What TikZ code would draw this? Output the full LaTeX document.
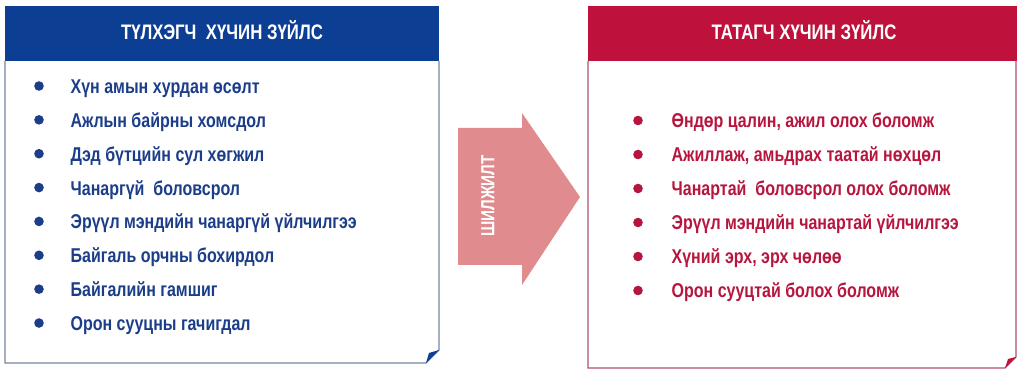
\documentclass[tikz,border=0pt]{standalone}
\usepackage{fontspec}
\newfontfamily\condsans[FakeStretch=0.8]{Liberation Sans}
\definecolor{pushblue}{RGB}{12,62,148}
\definecolor{pushtext}{RGB}{28,62,136}
\definecolor{pushframe}{RGB}{120,134,160}
\definecolor{pullred}{RGB}{190,18,60}
\definecolor{pulltext}{RGB}{182,22,62}
\definecolor{pullframe}{RGB}{176,80,110}
\definecolor{shiftpink}{RGB}{224,140,142}
\def\rowdy{33.86}
\def\pullrowdy{34}
\newcommand{\pxY}[1]{371-(#1)}

\tikzset{
  headtext/.style={font=\condsans\bfseries\fontsize{21}{21}\selectfont,text=white,anchor=base,inner sep=0pt},
  itemtext/.style={font=\condsans\bfseries\fontsize{20}{20}\selectfont,anchor=base west,inner sep=0pt},
}

\begin{document}
\begin{tikzpicture}[x=1pt,y=1pt,line width=1.3pt]
  \useasboundingbox (0,0) rectangle (1017,371);
  \fill[pushblue] (5,{\pxY{6}}) rectangle (439,{\pxY{61}});
  \draw[pushframe] (5,{\pxY{61}}) -- (5,{\pxY{363}}) -- (426,{\pxY{363}}) -- (439,{\pxY{350}}) -- (439,{\pxY{61}});
  \fill[pushblue] (426,{\pxY{363}}) -- (439,{\pxY{350}}) -- (429,{\pxY{353}}) -- cycle;
  \node[headtext] (pushhead) at (222,{\pxY{40}}) {ТҮЛХЭГЧ\ \ ХҮЧИН ЗҮЙЛС};
  \foreach \t [count=\n] in {Хүн амын хурдан өсөлт, Ажлын байрны хомсдол, Дэд бүтцийн сул хөгжил,
      Чанаргүй\ \ боловсрол, Эрүүл мэндийн чанаргүй үйлчилгээ, Байгаль орчны бохирдол,
      Байгалийн гамшиг, Орон сууцны гачигдал} {
    \fill[pushtext] (39,{\pxY{93.5+(\n-1)*\rowdy-7.5}}) circle (4.8);
    \node[itemtext,text=pushtext] (push\n) at (70,{\pxY{93.5+(\n-1)*\rowdy}}) {\t};
  }

  \fill[shiftpink] (458,{\pxY{128}}) -- (522,{\pxY{128}}) -- (522,{\pxY{113}}) -- (580,{\pxY{197}})
    -- (522,{\pxY{285}}) -- (522,{\pxY{265}}) -- (458,{\pxY{265}}) -- cycle;
  \node[font=\condsans\bfseries\fontsize{19}{19}\selectfont,text=white,rotate=90,inner sep=0pt] (shift) at (488,{\pxY{196}}) {ШИЛЖИЛТ};

  \fill[pullred] (588,{\pxY{6}}) rectangle (1017,{\pxY{61}});
  \draw[pullframe] (588,{\pxY{61}}) -- (588,{\pxY{368}}) -- (1005,{\pxY{368}}) -- (1016,{\pxY{357}}) -- (1016,{\pxY{61}});
  \fill[pullred] (1005,{\pxY{368}}) -- (1016,{\pxY{357}}) -- (1008,{\pxY{359}}) -- cycle;
  \node[headtext] (pullhead) at (804,{\pxY{40}}) {ТАТАГЧ ХҮЧИН ЗҮЙЛС};
  \foreach \t [count=\n] in {{Өндөр цалин, ажил олох боломж}, {Ажиллаж, амьдрах таатай нөхцөл},
      Чанартай\ \ боловсрол олох боломж, Эрүүл мэндийн чанартай үйлчилгээ, {Хүний эрх, эрх чөлөө},
      Орон сууцтай болох боломж} {
    \fill[pulltext] (638,{\pxY{128+(\n-1)*\pullrowdy-7.5}}) circle (4.8);
    \node[itemtext,text=pulltext] (pull\n) at (671,{\pxY{128+(\n-1)*\pullrowdy}}) {\t};
  }
\end{tikzpicture}
\end{document}
